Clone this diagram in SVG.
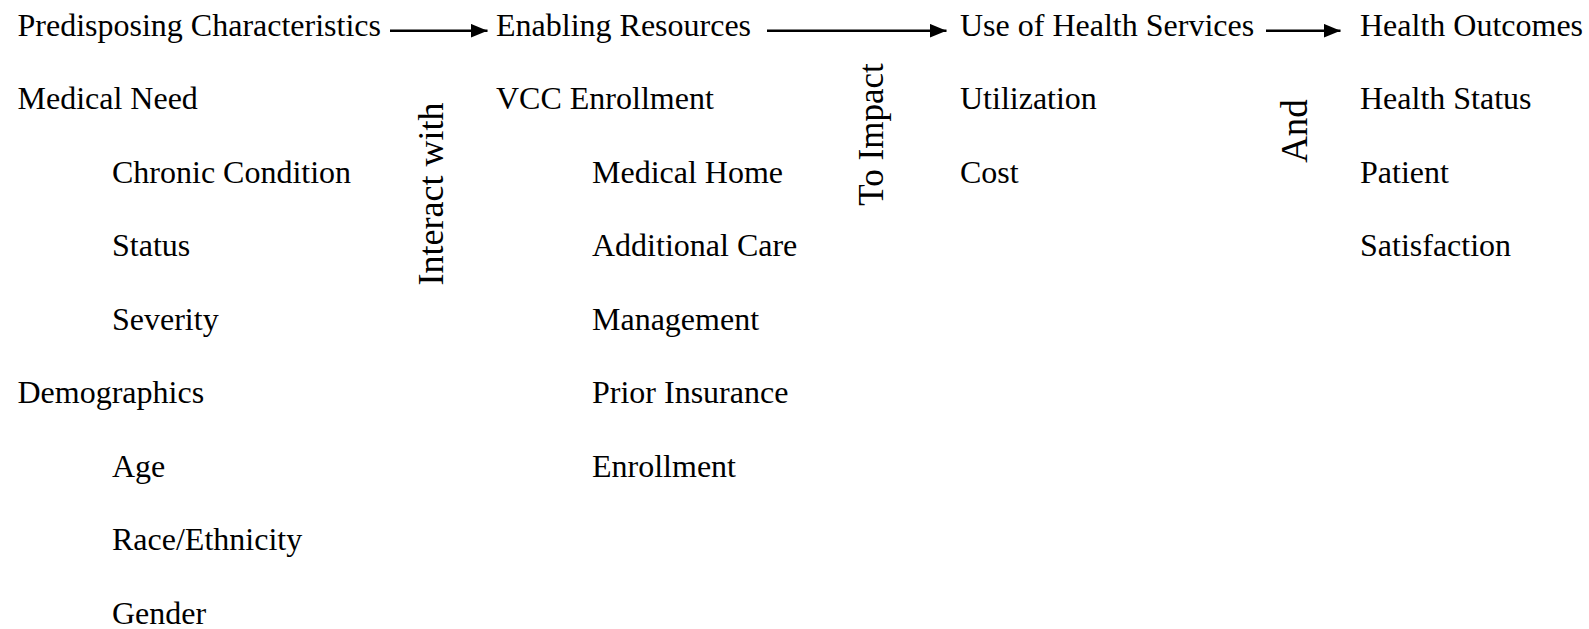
<svg xmlns="http://www.w3.org/2000/svg" width="1589" height="629" viewBox="0 0 1589 629">
<style>
text{font-family:"Liberation Serif","Times New Roman",serif;font-size:32px;fill:#000}
.rot{text-anchor:middle}
.c{stroke:#000;stroke-width:2.4;fill:none}
</style>
<defs>
<marker id="ah" markerUnits="userSpaceOnUse" markerWidth="18" markerHeight="14" refX="17" refY="7" orient="auto">
<path d="M0,0 L17,7 L0,14 Z" fill="#000"/>
</marker>
</defs>
<rect width="1589" height="629" fill="#fff"/>
<g id="connectors">
<line class="c" x1="390" y1="30.7" x2="487.5" y2="30.7" marker-end="url(#ah)"/>
<line class="c" x1="767" y1="30.7" x2="946.5" y2="30.7" marker-end="url(#ah)"/>
<line class="c" x1="1266" y1="30.7" x2="1340.5" y2="30.7" marker-end="url(#ah)"/>
<text class="rot" style="font-size:36px" transform="translate(443,194) rotate(-90)">Interact with</text>
<text class="rot" style="font-size:35px" transform="translate(883,134.5) rotate(-90)">To Impact</text>
<text class="rot" style="font-size:37px" transform="translate(1307,131) rotate(-90)">And</text>
</g>
<g id="predisposing">
<text x="17.5" y="35.5">Predisposing Characteristics</text>
<text x="17.5" y="109">Medical Need</text>
<text x="112" y="182.5">Chronic Condition</text>
<text x="112" y="256">Status</text>
<text x="112" y="329.5">Severity</text>
<text x="17.5" y="403">Demographics</text>
<text x="112" y="476.5">Age</text>
<text x="112" y="550">Race/Ethnicity</text>
<text x="112" y="623.5">Gender</text>
</g>
<g id="enabling">
<text x="496" y="35.5">Enabling Resources</text>
<text x="496" y="109">VCC Enrollment</text>
<text x="592" y="182.5">Medical Home</text>
<text x="592" y="256">Additional Care</text>
<text x="592" y="329.5">Management</text>
<text x="592" y="403">Prior Insurance</text>
<text x="592" y="476.5">Enrollment</text>
</g>
<g id="use">
<text x="960" y="35.5">Use of Health Services</text>
<text x="960" y="109">Utilization</text>
<text x="960" y="182.5">Cost</text>
</g>
<g id="outcomes">
<text x="1360" y="35.5">Health Outcomes</text>
<text x="1360" y="109">Health Status</text>
<text x="1360" y="182.5">Patient</text>
<text x="1360" y="256">Satisfaction</text>
</g>
</svg>
